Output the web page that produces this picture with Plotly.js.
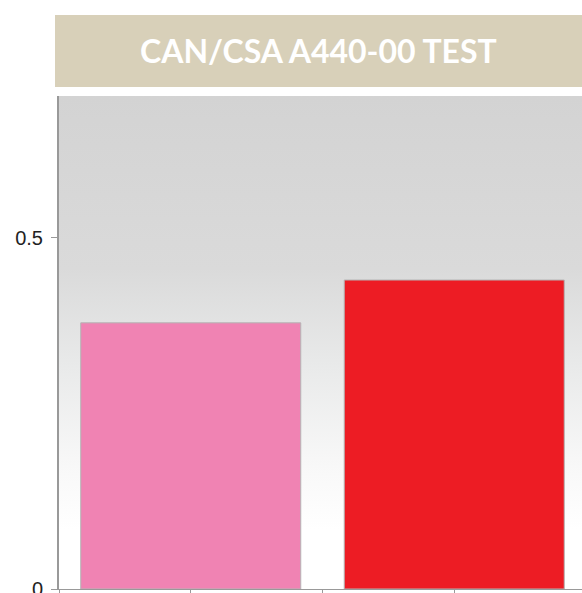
<!DOCTYPE html>
<html>
<head>
<meta charset="utf-8">
<script src="https://cdn.plot.ly/plotly-3.0.1.min.js"></script>
<style>
html,body{margin:0;padding:0;overflow:hidden;background:#fff;}
#chart{width:590px;height:600px;}
</style>
</head>
<body>
<div id="chart"></div>
<script>
// Data
var categories = [0, 1];
var values = [0.379, 0.440];
var barColors = ['#f083b3', '#ed1c24'];
var yTickVals = [0, 0.5];
var yTickText = ['0', '0.5'];
var xTickVals = [-0.5, 0, 0.5, 1, 1.5];
var titleText = 'CAN/CSA A440-00 TEST';

var svg = '<svg xmlns="http://www.w3.org/2000/svg" width="100" height="100" preserveAspectRatio="none">' +
  '<defs><linearGradient id="g" x1="0" y1="0" x2="0" y2="1">' +
  '<stop offset="0" stop-color="#d3d3d3"/>' +
  '<stop offset="0.35" stop-color="#dadada"/>' +
  '<stop offset="0.55" stop-color="#e9eaea"/>' +
  '<stop offset="0.75" stop-color="#f8f8f8"/>' +
  '<stop offset="0.88" stop-color="#ffffff"/>' +
  '<stop offset="1" stop-color="#ffffff"/>' +
  '</linearGradient></defs><rect width="100" height="100" fill="url(#g)"/></svg>';
var bgSrc = 'data:image/svg+xml;charset=utf-8,' + encodeURIComponent(svg);

var trace = {
  type: 'bar',
  x: categories,
  y: values,
  width: 0.835,
  marker: {color: barColors, line: {color: '#b4b4b4', width: 1}},
  hoverinfo: 'none'
};

var layout = {
  width: 590,
  height: 600,
  margin: {l: 59, r: 4, t: 96, b: 11},
  paper_bgcolor: '#ffffff',
  plot_bgcolor: 'rgba(0,0,0,0)',
  showlegend: false,
  xaxis: {
    range: [-0.5, 1.5],
    tickvals: xTickVals,
    ticktext: ['', '', '', '', ''],
    ticks: 'outside',
    ticklen: 6,
    tickcolor: '#999999',
    showline: true,
    linecolor: '#999999',
    linewidth: 1,
    showgrid: false,
    zeroline: false,
    fixedrange: true
  },
  yaxis: {
    range: [0, 0.702],
    tickvals: yTickVals,
    ticktext: yTickText,
    ticks: 'outside',
    ticklen: 6,
    tickcolor: '#999999',
    ticklabelstandoff: 4,
    showline: true,
    linecolor: '#999999',
    linewidth: 2,
    showgrid: false,
    zeroline: false,
    tickfont: {family: 'Liberation Sans, Arial, sans-serif', size: 20, color: '#222222'},
    fixedrange: true
  },
  images: [{
    source: bgSrc,
    xref: 'paper', yref: 'paper',
    x: 0, y: 1, sizex: 1, sizey: 1,
    xanchor: 'left', yanchor: 'top',
    sizing: 'stretch',
    layer: 'below'
  }],
  shapes: [{
    type: 'rect',
    xref: 'paper', yref: 'paper',
    x0: -0.0076, x1: 1.02,
    y0: 1.0183, y1: 1.1643,
    fillcolor: '#d8d0b9',
    line: {width: 0},
    layer: 'above'
  }],
  annotations: [{
    text: '<b>' + titleText + '</b>',
    xref: 'paper', yref: 'paper',
    x: 0.4933, y: 1.0913,
    xanchor: 'center', yanchor: 'middle',
    showarrow: false,
    font: {family: 'Lato, sans-serif', size: 32, color: '#ffffff'}
  }]
};

Plotly.newPlot('chart', [trace], layout, {displayModeBar: false, staticPlot: true});
</script>
</body>
</html>
